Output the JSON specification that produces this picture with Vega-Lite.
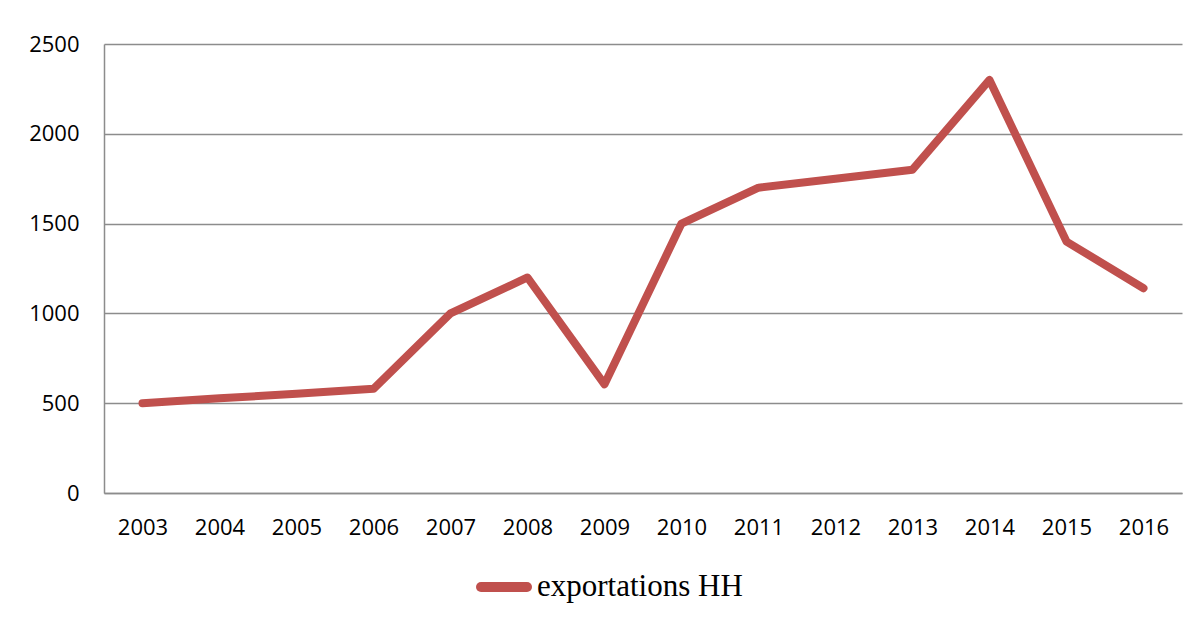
{
  "$schema": "https://vega.github.io/schema/vega-lite/v6.json",
  "width": 1078,
  "height": 449,
  "autosize": {"type": "none"},
  "padding": {"left": 104, "top": 44, "right": 16, "bottom": 126},
  "background": "white",
  "config": {
    "view": {"stroke": null},
    "axis": {"labelFont": "Open Sans", "labelFontSize": 22, "labelColor": "#000000", "ticks": false, "title": null}
  },
  "data": {
    "values": [
      {"year": "2003", "value": 500, "series": "exportations HH"},
      {"year": "2004", "value": 527, "series": "exportations HH"},
      {"year": "2005", "value": 553, "series": "exportations HH"},
      {"year": "2006", "value": 580, "series": "exportations HH"},
      {"year": "2007", "value": 1000, "series": "exportations HH"},
      {"year": "2008", "value": 1200, "series": "exportations HH"},
      {"year": "2009", "value": 605, "series": "exportations HH"},
      {"year": "2010", "value": 1500, "series": "exportations HH"},
      {"year": "2011", "value": 1700, "series": "exportations HH"},
      {"year": "2012", "value": 1750, "series": "exportations HH"},
      {"year": "2013", "value": 1800, "series": "exportations HH"},
      {"year": "2014", "value": 2300, "series": "exportations HH"},
      {"year": "2015", "value": 1400, "series": "exportations HH"},
      {"year": "2016", "value": 1140, "series": "exportations HH"}
    ]
  },
  "mark": {"type": "line", "strokeWidth": 8, "strokeCap": "round", "strokeJoin": "round"},
  "encoding": {
    "x": {
      "field": "year",
      "type": "ordinal",
      "scale": {"type": "point", "padding": 0.5},
      "axis": {"labelAngle": 0, "labelPadding": 24, "domainColor": "#8c8c8c", "domainWidth": 1.5, "grid": false}
    },
    "y": {
      "field": "value",
      "type": "quantitative",
      "scale": {"domain": [0, 2500], "nice": false},
      "axis": {"values": [0, 500, 1000, 1500, 2000, 2500], "format": "d", "labelPadding": 25, "domainColor": "#8c8c8c", "domainWidth": 1.5, "grid": true, "gridColor": "#8c8c8c", "gridWidth": 1.5}
    },
    "color": {
      "field": "series",
      "type": "nominal",
      "scale": {"range": ["#C0504D"]},
      "legend": {
        "title": null,
        "orient": "none",
        "legendX": 372,
        "legendY": 515,
        "padding": 0,
        "symbolType": "stroke",
        "symbolSize": 2116,
        "symbolStrokeWidth": 10,
        "labelFont": "Liberation Serif",
        "labelFontSize": 31,
        "labelColor": "#000000",
        "labelOffset": 5,
        "labelLimit": 0,
        "encode": {"symbols": {"update": {"strokeCap": {"value": "round"}}}}
      }
    }
  }
}
